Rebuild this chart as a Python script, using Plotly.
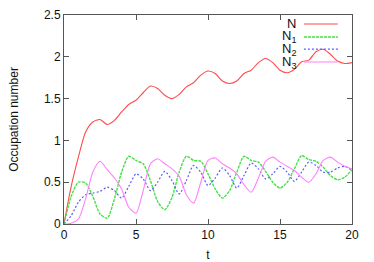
import plotly.graph_objects as go

t = [i * 0.5 for i in range(41)]

N_total = [0, 0.45, 0.80, 1.10, 1.22, 1.25, 1.19, 1.24, 1.34, 1.43,
           1.48, 1.57, 1.65, 1.62, 1.54, 1.50, 1.55, 1.64, 1.69, 1.78,
           1.83, 1.80, 1.71, 1.68, 1.71, 1.80, 1.84, 1.93, 1.98, 1.93,
           1.84, 1.81, 1.85, 1.94, 1.96, 2.06, 2.09, 2.03, 1.95, 1.92, 1.93]

N1 = [0, 0.33, 0.50, 0.49, 0.33, 0.12, 0.07, 0.30, 0.62, 0.81,
      0.76, 0.72, 0.52, 0.27, 0.17, 0.32, 0.62, 0.81, 0.76, 0.75,
      0.60, 0.42, 0.31, 0.40, 0.62, 0.81, 0.76, 0.74, 0.63, 0.50,
      0.43, 0.50, 0.66, 0.82, 0.77, 0.75, 0.68, 0.58, 0.53, 0.56, 0.65]

N2 = [0, 0.10, 0.26, 0.35, 0.37, 0.39, 0.44, 0.40, 0.31, 0.45,
      0.60, 0.54, 0.40, 0.50, 0.63, 0.52, 0.36, 0.52, 0.70, 0.62,
      0.46, 0.55, 0.67, 0.58, 0.43, 0.58, 0.73, 0.66, 0.54, 0.60,
      0.69, 0.62, 0.51, 0.62, 0.74, 0.70, 0.62, 0.62, 0.67, 0.69, 0.64]

N3 = [0, 0.01, 0.06, 0.30, 0.62, 0.75, 0.65, 0.55, 0.42, 0.20,
      0.13, 0.40, 0.72, 0.78, 0.72, 0.66, 0.57, 0.35, 0.25, 0.50,
      0.76, 0.79, 0.72, 0.67, 0.60, 0.47, 0.38, 0.55, 0.75, 0.80,
      0.74, 0.69, 0.64, 0.56, 0.50, 0.60, 0.76, 0.80, 0.74, 0.69, 0.66]

labels = ["N", "N<sub>1</sub>", "N<sub>2</sub>", "N<sub>3</sub>"]
series = [N_total, N1, N2, N3]
colors = ["#ff4a4a", "#44e044", "#5a5aff", "#ff80ff"]
dashes = ["solid", "3px,1px", "2px,2px", "solid"]
widths = [1.1, 1.4, 1.2, 1.1]

x_ticks = [0, 5, 10, 15, 20]
y_ticks = [0, 0.5, 1, 1.5, 2, 2.5]

fig = go.Figure()
for ys, c, d, w, lab in zip(series, colors, dashes, widths, labels):
    fig.add_trace(go.Scatter(x=t, y=ys, mode="lines", name=lab, showlegend=False,
                             hoverinfo="skip",
                             line=dict(color=c, width=w, dash=d, shape="spline", smoothing=0.7)))

font = "Liberation Sans, Arial, sans-serif"
axis_common = dict(showgrid=False, zeroline=False, showline=True, linecolor="#555",
                   linewidth=1, mirror="ticks", ticks="inside", ticklen=5,
                   tickcolor="#555", automargin=False,
                   tickfont=dict(size=12, color="#111", family=font))

fig.update_layout(
    width=374, height=262,
    margin=dict(l=64, r=22, t=15, b=38),
    paper_bgcolor="white", plot_bgcolor="white",
    showlegend=False,
    xaxis=dict(range=[0, 20], tickvals=x_ticks,
               title=dict(text="t", font=dict(size=12, family=font, color="#111"), standoff=12),
               **axis_common),
    yaxis=dict(range=[0, 2.5], tickvals=y_ticks,
               title=dict(text="Occupation number", font=dict(size=12, family=font, color="#111"), standoff=22),
               **axis_common),
)

# gnuplot-style key: label on the left, sample line on the right
row_y = [0.957, 0.895, 0.837, 0.775]
for lab, c, d, w, yy in zip(labels, colors, dashes, widths, row_y):
    fig.add_annotation(xref="paper", yref="paper", x=0.812, y=yy,
                       text=lab, showarrow=False, xanchor="right", yanchor="middle",
                       font=dict(size=13, family=font, color="#111"))
    fig.add_shape(type="line", xref="paper", yref="paper", x0=0.833, x1=0.951, y0=yy, y1=yy,
                  line=dict(color=c, width=w, dash=d))

fig.write_html("out.html", config={"displayModeBar": False, "staticPlot": True},
               post_script="document.body.style.margin='0';document.body.style.padding='0';")
